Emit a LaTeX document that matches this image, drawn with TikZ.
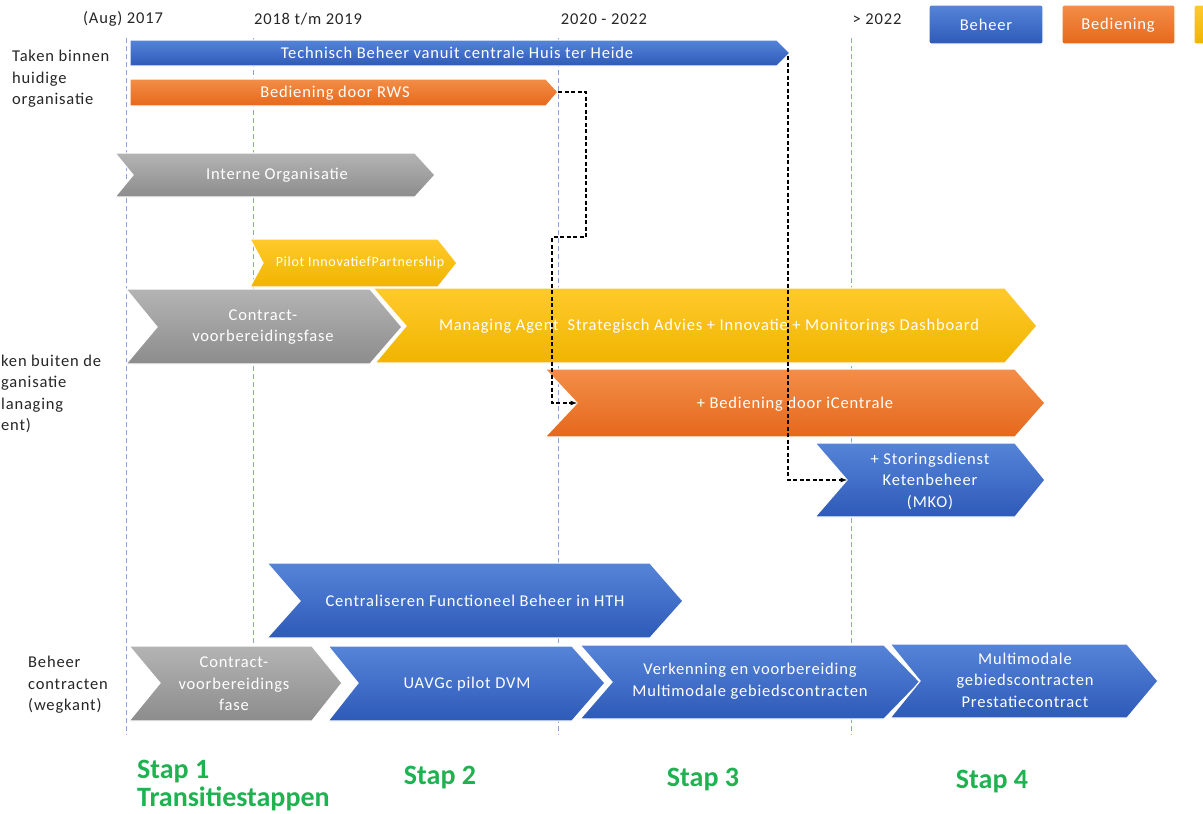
\documentclass[tikz,border=0pt]{standalone}
\usepackage{fontspec}
\setmainfont{Carlito}[LetterSpace=5]
\newfontfamily\stapfont{Carlito}
\definecolor{bhtop}{RGB}{86,132,216}
\definecolor{bhbot}{RGB}{46,90,184}
\definecolor{bdtop}{RGB}{243,142,72}
\definecolor{bdbot}{RGB}{229,104,28}
\definecolor{ystop}{RGB}{255,202,44}
\definecolor{ysbot}{RGB}{240,180,0}
\definecolor{grtop}{RGB}{180,180,180}
\definecolor{grbot}{RGB}{140,140,140}
\definecolor{guideblue}{RGB}{140,165,215}
\definecolor{stapgreen}{RGB}{30,178,80}

\begin{document}
\begin{tikzpicture}[x=1pt,y=-1pt,
  beheer/.style={top color=bhtop,bottom color=bhbot,draw=white,line width=1.2pt},
  bediening/.style={top color=bdtop,bottom color=bdbot,draw=white,line width=1.2pt},
  advies/.style={top color=ystop,bottom color=ysbot,draw=white,line width=1.2pt},
  intern/.style={top color=grtop,bottom color=grbot,draw=white,line width=1.2pt},
  txt/.style={text=white,font=\fontsize{16.5}{21.5}\selectfont,align=center,inner sep=0pt},
  side/.style={text=black!85,font=\fontsize{16.5}{21.5}\selectfont,align=left,inner sep=0pt,anchor=west},
  year/.style={text=black!85,font=\fontsize{16.5}{18}\selectfont,inner sep=0pt},
  stap/.style={text=stapgreen,font=\stapfont\fontsize{28}{28}\selectfont\bfseries,align=left,inner sep=0pt},
  guide/.style={guideblue,line width=0.8pt,dash pattern=on 5pt off 3pt},
  flow/.style={black,line width=1.2pt,dash pattern=on 4pt off 2.5pt,-latex}]
\useasboundingbox (0,0) rectangle (1203,814);
\clip (0,0) rectangle (1203,814);
\fill[white] (0,0) rectangle (1203,814);

\draw[guide] (126,38) -- (126,735);
\draw[guide] (253,38) -- (253,650);
\draw[guide] (558,38) -- (558,735);
\draw[guide] (851,38) -- (851,735);

\node[year] (y2017) at (123,19) {(Aug) 2017};
\node[year] (y2018) at (308,19) {2018 t/m 2019};
\node[year] (y2020) at (604,19) {2020 - 2022};
\node[year] (y2022) at (877,19) {> 2022};

\path[beheer,rounded corners=2pt] (929,5) rectangle (1043,44);
\node[txt] (lgbeheer) at (986,25) {Beheer};
\path[bediening,rounded corners=2pt] (1062,5) rectangle (1175,44);
\node[txt] (lgbediening) at (1118,25) {Bediening};
\path[advies,rounded corners=2pt] (1194,5) rectangle (1260,44);

\node[side] (takenbinnen) at (12,79) {Taken binnen\\huidige\\organisatie};
\node[side] (takenbuiten) at (1,394) {ken buiten de\\ganisatie\\lanaging\\ent)};
\node[side] (beheercontr) at (28,685) {Beheer\\contracten\\(wegkant)};

\path[beheer] (130,40) -- (777,40) -- (790,53) -- (777,66) -- (130,66) -- cycle;
\coordinate (techtip) at (788,56);
\node[txt] (tech) at (457,53) {Technisch Beheer vanuit centrale Huis ter Heide};

\path[bediening] (130,79) -- (546,79) -- (558,92) -- (546,106) -- (130,106) -- cycle;
\coordinate (rwstip) at (558,92);
\node[txt] (rws) at (335,93) {Bediening door RWS};

\path[intern] (115,153) -- (415,153) -- (435,175) -- (415,197) -- (115,197) -- (133,175) -- cycle;
\node[txt] (interne) at (277,175) {Interne Organisatie};

\path[advies] (250,239) -- (438,239) -- (457,263) -- (438,287) -- (250,287) -- (263,263) -- cycle;
\node[txt,font=\fontsize{14}{16}\selectfont] (pilot) at (360,263) {Pilot InnovatiefPartnership};

\path[intern] (126,289) -- (370,289) -- (402,327) -- (370,364) -- (126,364) -- (157,327) -- cycle;
\node[txt] (contract) at (263,327) {Contract-\\voorbereidingsfase};

\path[advies] (373,288) -- (1005,288) -- (1037,326) -- (1005,363) -- (375,363) -- (406,326) -- cycle;
\node[txt] (managing) at (709,326) {Managing Agent \ Strategisch Advies + Innovatie + Monitorings Dashboard};

\path[bediening] (545,369) -- (1015,369) -- (1045,403) -- (1015,437) -- (545,437) -- (577,403) -- cycle;
\coordinate (centralein) at (577,403);
\node[txt] (centrale) at (795,404) {+ Bediening door iCentrale};

\path[beheer] (815,443) -- (1015,443) -- (1045,480) -- (1015,517) -- (815,517) -- (847,480) -- cycle;
\coordinate (storingin) at (847,480);
\node[txt] (storing) at (930,481) {+ Storingsdienst\\Ketenbeheer\\(MKO)};

\path[beheer] (267,563) -- (650,563) -- (683,601) -- (650,638) -- (267,638) -- (300,601) -- cycle;
\node[txt] (functioneel) at (475,601) {Centraliseren Functioneel Beheer in HTH};

\path[intern] (129,646) -- (312,646) -- (342,683) -- (312,721) -- (129,721) -- (160,683) -- cycle;
\node[txt] (contractweg) at (234,684) {Contract-\\voorbereidings\\fase};

\path[beheer] (328,646) -- (572,646) -- (605,683) -- (572,721) -- (328,721) -- (358,683) -- cycle;
\node[txt] (uavgc) at (467,684) {UAVGc pilot DVM};

\path[beheer] (580,645) -- (884,645) -- (920,682) -- (884,719) -- (580,719) -- (612,682) -- cycle;
\node[txt] (verkenning) at (750,681) {Verkenning en voorbereiding\\Multimodale gebiedscontracten};

\path[beheer] (890,644) -- (1127,644) -- (1158,681) -- (1127,718) -- (890,718) -- (920,681) -- cycle;
\node[txt] (gebied) at (1025,680) {Multimodale\\gebiedscontracten\\Prestatiecontract};

\draw[flow] (techtip) |- (storingin);
\draw[flow] (rwstip) -- ++(28,0) |- ++(-34,145) |- (centralein);

\node[stap,anchor=west] (stap1) at (137,786) {Stap 1\\Transitiestappen};
\node[stap] (stap2) at (440,778) {Stap 2};
\node[stap] (stap3) at (703,780) {Stap 3};
\node[stap] (stap4) at (992,782) {Stap 4};
\end{tikzpicture}
\end{document}
